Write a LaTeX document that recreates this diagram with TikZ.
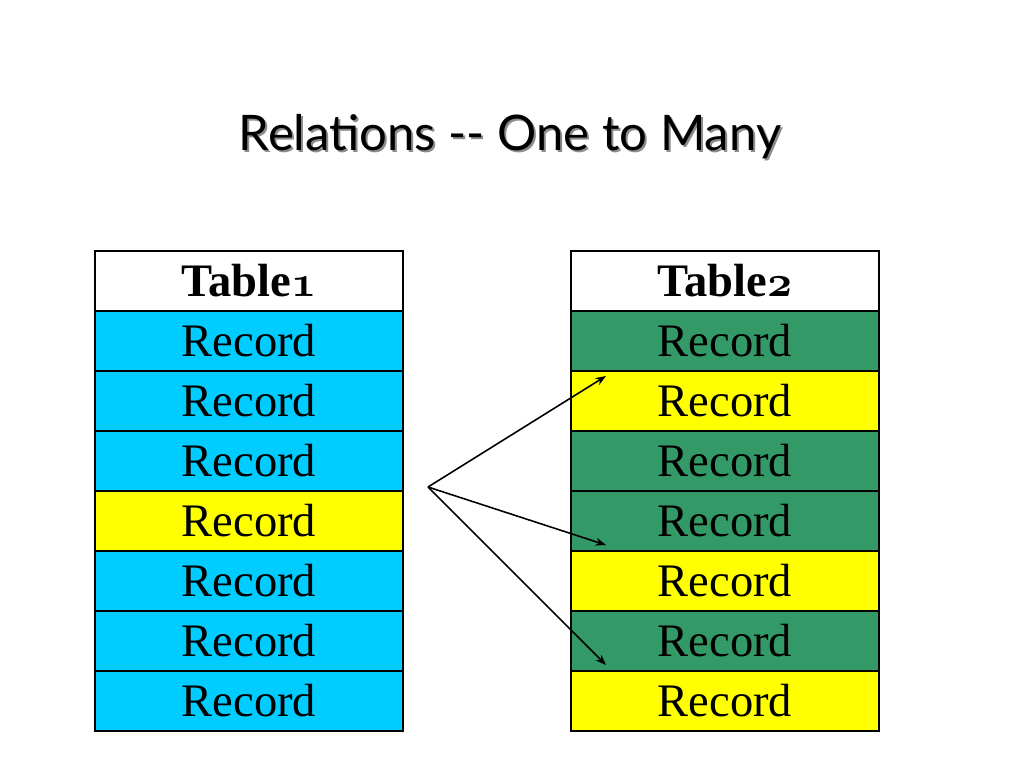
\documentclass[tikz,border=0pt]{standalone}
\usepackage{fontspec}
\setmainfont{Liberation Serif}
\newfontfamily\titrefont{Lato}
\usepackage{tikz}
\usetikzlibrary{arrows.meta, positioning}

\definecolor{cielbleu}{HTML}{00CCFF}
\definecolor{vertfonce}{HTML}{339966}
\definecolor{jaune}{HTML}{FFFF00}
\newcommand{\vieuxchiffre}[1]{{\usefont{OML}{cmm}{b}{it}#1}}

\begin{document}
\begin{tikzpicture}[
		x=0.02cm, y=-0.02cm,
		cell/.style={draw, line width=1.4pt, minimum width=6.16cm, minimum height=1.2cm, inner sep=0pt, font=\fontsize{26.5}{30}\selectfont},
		head/.style={cell, fill=white, font=\fontsize{26.5}{30}\selectfont\bfseries},
		bleu/.style={cell, fill=cielbleu},
		vert/.style={cell, fill=vertfonce},
		jaune/.style={cell, fill=jaune},
		fleche/.style={-{Stealth[length=6pt, width=4.5pt]}, line width=0.9pt}
		]
		\useasboundingbox (0,0) rectangle (1024,768);
		
		% Le titre
		\node[text=black!45, font=\titrefont\fontsize{27.9}{32}\selectfont] (titreombre) at (512,139) {Relations -- One to Many};
		\node[font=\titrefont\fontsize{27.9}{32}\selectfont] (titre) at (510,137) {Relations -- One to Many};
		
		% Table 1
		\node[head] (Ta) at (249,281) {Table\vieuxchiffre{1}};
		\node[bleu] (A1) at (249,341) {Record};
		\node[bleu] (A2) at (249,401) {Record};
		\node[bleu] (A3) at (249,461) {Record};
		\node[jaune] (A4) at (249,521) {Record};
		\node[bleu] (A5) at (249,581) {Record};
		\node[bleu] (A6) at (249,641) {Record};
		\node[bleu] (A7) at (249,701) {Record};
		
		% Table 2
		\node[head] (Tb) at (725,281) {Table\vieuxchiffre{2}};
		\node[vert] (B1) at (725,341) {Record};
		\node[jaune] (B2) at (725,401) {Record};
		\node[vert] (B3) at (725,461) {Record};
		\node[vert] (B4) at (725,521) {Record};
		\node[jaune] (B5) at (725,581) {Record};
		\node[vert] (B6) at (725,641) {Record};
		\node[jaune] (B7) at (725,701) {Record};
		
		% Les fleches
		\coordinate (src) at (428,487);
		\coordinate (dst1) at (606,376);
		\coordinate (dst2) at (606,545);
		\coordinate (dst3) at (606,665);
		\draw[fleche] (src) -- (dst1);
		\draw[fleche] (src) -- (dst2);
		\draw[fleche] (src) -- (dst3);
	\end{tikzpicture}
\end{document}
